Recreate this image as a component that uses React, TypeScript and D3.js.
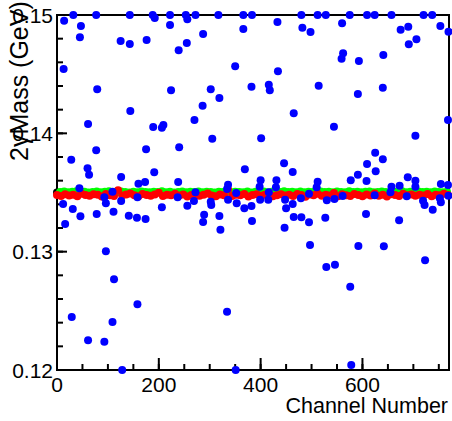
import React from "react";
import * as d3 from "d3";

const xTickValues = [0, 200, 400, 600];
const xTickLabels = ["0", "200", "400", "600"];
const yTickValues = [0.12, 0.13, 0.14, 0.15];
const yTickLabels = ["0.12", "0.13", "0.14", "0.15"];

const xTitle = "Channel Number";
const yTitle = "2γMass (GeV)";

// reference value (black)
const refChannels = [0];
const refMass = [0.135];

// fitted mass per channel (red), channels 0,8,16,...
const redMass = [
  0.13478, 0.1347, 0.13486, 0.13475, 0.13482, 0.13468, 0.1349, 0.13479, 0.13473, 0.13485,
  0.1348, 0.13466, 0.13488, 0.13477, 0.13471, 0.13518, 0.13474, 0.13483, 0.13492, 0.13476,
  0.13469, 0.13487, 0.13479, 0.13473, 0.13484, 0.13497, 0.1347, 0.13481, 0.13476, 0.13489,
  0.13474, 0.13483, 0.13467, 0.13478, 0.13486, 0.13472, 0.1348, 0.13491, 0.13475, 0.13468,
  0.13484, 0.13477, 0.13526, 0.13471, 0.13482, 0.13476, 0.13488, 0.13466, 0.13479, 0.13485,
  0.13473, 0.1348, 0.13494, 0.13469, 0.13477, 0.13486, 0.13474, 0.13482, 0.1347, 0.13487,
  0.13478, 0.13465, 0.13483, 0.13476, 0.1349, 0.13472, 0.13481, 0.13474, 0.13496, 0.13469,
  0.13485, 0.13477, 0.13471, 0.13488, 0.13479, 0.13468, 0.13484, 0.13475, 0.13492, 0.13473,
  0.13481, 0.13467, 0.13486, 0.13478, 0.1347, 0.13489, 0.13476, 0.13483, 0.13472, 0.1348,
  0.13474, 0.13487, 0.13469, 0.13482, 0.13476, 0.1349, 0.13478,
];
const redChannels = d3.range(redMass.length).map((i) => i * 8);

// corrected mass (green), channels 6,14,22,...
const greenMass = [
  0.13504, 0.13508, 0.13502, 0.13506, 0.1351, 0.13503, 0.13507, 0.13501, 0.13505, 0.13509,
  0.13503, 0.13506, 0.13511, 0.13502, 0.13505, 0.13508, 0.13504, 0.13501, 0.13507, 0.13503,
  0.13509, 0.13505, 0.13502, 0.13506, 0.13504, 0.1351, 0.13503, 0.13507, 0.13501, 0.13505,
  0.13508, 0.13502, 0.13506, 0.13504, 0.13509, 0.13503, 0.13507, 0.13505, 0.13501, 0.13506,
  0.13504, 0.1351, 0.13502, 0.13507, 0.13505, 0.13503, 0.13508, 0.13501, 0.13506, 0.13504,
  0.13509, 0.13503, 0.13507, 0.13502, 0.13505, 0.13511, 0.13504, 0.13506, 0.13502, 0.13508,
  0.13503, 0.13507, 0.13505, 0.13501, 0.13509, 0.13504, 0.13506, 0.13502, 0.13508, 0.13505,
  0.13503, 0.1351, 0.13504, 0.13507, 0.13502, 0.13506, 0.13509, 0.13503, 0.13505, 0.13508,
  0.13504, 0.13501, 0.13507, 0.13505, 0.1351, 0.13503, 0.13506, 0.13502, 0.13508, 0.13504,
  0.13507, 0.13503, 0.13509, 0.13505, 0.13502, 0.13506,
];
const greenChannels = d3.range(greenMass.length).map((i) => 6 + i * 8);

// raw mass (blue) outliers
const blueChannels = [
  14, 32, 47, 45, 77, 125, 143, 143, 176, 188, 192, 222, 222, 253, 256, 272, 255, 239, 287, 317,
  366, 383, 366, 13, 350, 382, 79, 224, 302, 319, 286, 144, 270, 61, 189, 206, 209, 305, 240, 175,
  77, 28, 60, 63, 191, 369, 126, 160, 173, 238, 336, 44,
  433, 480, 482, 498, 512, 528, 560, 575, 609, 624, 657, 675, 690, 720, 737, 753, 769, 691,
  706, 562, 559, 593, 641, 434, 416, 418, 514, 640, 591, 465, 544, 768, 401, 704, 625, 640,
  446, 609, 463, 626, 591, 400, 431, 512, 577, 608, 689, 704, 754, 768, 398, 430, 510, 657, 673, 704,
  109, 12, 16, 31, 46, 93, 96, 126, 78, 111, 141, 158, 157, 174, 206, 237, 256, 272, 269, 289,
  287, 302, 303, 319, 321, 334, 336, 352, 353, 368, 382, 383, 96, 112, 29, 61, 93, 109, 158, 334,
  128, 351,
  416, 399, 415, 448, 463, 450, 479, 495, 465, 480, 447, 495, 527, 530, 545, 561, 624, 607, 655, 687,
  719, 722, 738, 752, 754, 769, 672, 497, 592, 642, 529, 546, 576, 723, 578,
];
const blueMass = [
  0.14952, 0.15, 0.14907, 0.14812, 0.15, 0.1478, 0.14755, 0.15, 0.14789, 0.15, 0.14975, 0.15, 0.14915, 0.15, 0.14964, 0.15, 0.14763, 0.14702, 0.14839, 0.15,
  0.15, 0.15, 0.14882, 0.14544, 0.14566, 0.14394, 0.14372, 0.14364, 0.14372, 0.14299, 0.14233, 0.14189, 0.14113, 0.14079, 0.14054, 0.14048, 0.1407, 0.13955, 0.13882, 0.13865,
  0.13857, 0.13777, 0.13704, 0.1365, 0.13671, 0.13696, 0.13631, 0.13574, 0.13589, 0.13589, 0.13566, 0.13535,
  0.14941, 0.15, 0.14893, 0.14856, 0.15, 0.15, 0.1493, 0.15, 0.15, 0.15, 0.15, 0.14876, 0.14901, 0.15, 0.15, 0.14907, 0.14859, 0.14752,
  0.14795, 0.14676, 0.14631, 0.14611, 0.14662, 0.14524, 0.14411, 0.14364, 0.14403, 0.14386, 0.14332, 0.14169, 0.14056, 0.14113, 0.13958, 0.1398, 0.13836, 0.13781,
  0.13747, 0.13741, 0.13673, 0.13679, 0.1365, 0.13603, 0.13603, 0.13591, 0.13603, 0.13597, 0.13628, 0.136, 0.13572, 0.13563, 0.13549, 0.13544, 0.13544, 0.13549, 0.13557, 0.13549,
  0.13507, 0.13403, 0.13234, 0.1336, 0.13299, 0.13459, 0.13409, 0.13428, 0.13318, 0.13338, 0.13304, 0.13459, 0.13287, 0.13276, 0.13375, 0.13459, 0.13388, 0.13502, 0.13428, 0.13312,
  0.13251, 0.13422, 0.13394, 0.13301, 0.13186, 0.1353, 0.13439, 0.13496, 0.13409, 0.13366, 0.13386, 0.13259, 0.13003, 0.12766, 0.12448, 0.12251, 0.12239, 0.12406, 0.12555, 0.12493,
  0.12, 0.12,
  0.13502, 0.13439, 0.13439, 0.13439, 0.13403, 0.13366, 0.13451, 0.1349, 0.13293, 0.1329, 0.13203, 0.13248, 0.13287, 0.13434, 0.13445, 0.1347, 0.13476, 0.13318, 0.13502, 0.13468,
  0.13431, 0.13394, 0.13355, 0.13451, 0.13417, 0.13473, 0.13265, 0.13056, 0.13048, 0.13045, 0.1287, 0.1289, 0.12704, 0.12927, 0.12042,
];

const W = 452;
const H = 421;
const M = { left: 57, right: 449, top: 15, bottom: 370 };
const FONT = "'Liberation Sans', Arial, Helvetica, sans-serif";

export default function App() {
  const x = d3.scaleLinear().domain([0, 770]).range([M.left, M.right]);
  const y = d3.scaleLinear().domain([0.12, 0.15]).range([M.bottom, M.top]);

  const xMinor = d3.range(0, 770, 50);
  const yMinor = d3.range(0, 16).map((i) => 0.12 + i * 0.002);

  const series = (chs: number[], vals: number[], color: string, key: string) =>
    chs.map((c, i) => (
      <circle key={key + i} cx={x(c)} cy={y(vals[i])} r={4} fill={color} />
    ));

  return (
    <div style={{ position: "absolute", left: 0, top: 0 }}>
      <svg width={W} height={H} style={{ display: "block", background: "#fff" }}>
        <rect x={0} y={0} width={W} height={H} fill="#fff" />
        {/* frame */}
        <rect
          x={M.left}
          y={M.top}
          width={M.right - M.left}
          height={M.bottom - M.top}
          fill="none"
          stroke="#000"
          strokeWidth={2}
        />
        {/* x ticks */}
        {xMinor.map((v) => (
          <line key={"xm" + v} x1={x(v)} x2={x(v)} y1={M.bottom} y2={M.bottom - 6} stroke="#000" strokeWidth={2} />
        ))}
        {xTickValues.map((v) => (
          <line key={"xM" + v} x1={x(v)} x2={x(v)} y1={M.bottom} y2={M.bottom - 12} stroke="#000" strokeWidth={2} />
        ))}
        {/* y ticks */}
        {yMinor.map((v) => (
          <line key={"ym" + v} x1={M.left} x2={M.left + 6} y1={y(v)} y2={y(v)} stroke="#000" strokeWidth={2} />
        ))}
        {yTickValues.map((v) => (
          <line key={"yM" + v} x1={M.left} x2={M.left + 10} y1={y(v)} y2={y(v)} stroke="#000" strokeWidth={2} />
        ))}
        {/* tick labels */}
        {xTickValues.map((v, i) => (
          <text key={"xl" + v} x={x(v)} y={392} textAnchor="middle" fontFamily={FONT} fontSize={21} fill="#000">
            {xTickLabels[i]}
          </text>
        ))}
        {yTickValues.map((v, i) => (
          <text key={"yl" + v} x={53} y={y(v) + 7.5} textAnchor="end" fontFamily={FONT} fontSize={21} fill="#000">
            {yTickLabels[i]}
          </text>
        ))}
        {/* markers */}
        {series(refChannels, refMass, "#000", "k")}
        {series(greenChannels, greenMass, "#00ff00", "g")}
        {series(redChannels, redMass, "#ff0000", "r")}
        {series(blueChannels, blueMass, "#0000ff", "b")}
        {/* titles */}
        <text x={448} y={413} textAnchor="end" fontFamily={FONT} fontSize={21.5} fill="#000">
          {xTitle}
        </text>
        <text
          transform="translate(28,161) rotate(-90)"
          textAnchor="start"
          fontFamily={FONT}
          fontSize={25}
          fill="#000"
        >
          {yTitle}
        </text>
      </svg>
    </div>
  );
}
